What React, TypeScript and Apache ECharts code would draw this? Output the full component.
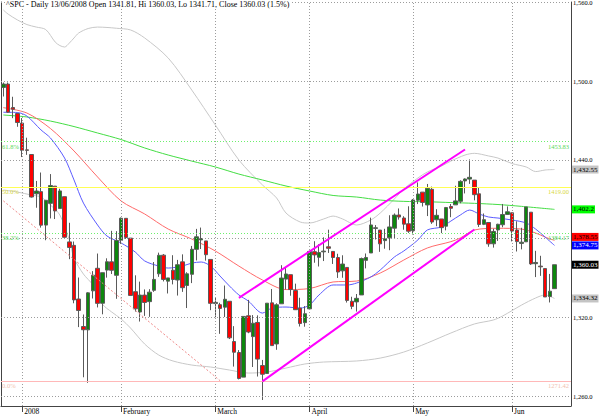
import React, { useEffect, useRef } from "react";
import * as echarts from "echarts";

const dates: string[] = [
  "2007-12-26", "2007-12-27", "2007-12-28", "2007-12-31",
  "2008-01-02", "2008-01-03", "2008-01-04", "2008-01-07", "2008-01-08", "2008-01-09", "2008-01-10", "2008-01-11",
  "2008-01-14", "2008-01-15", "2008-01-16", "2008-01-17", "2008-01-18", "2008-01-22", "2008-01-23", "2008-01-24",
  "2008-01-25", "2008-01-28", "2008-01-29", "2008-01-30", "2008-01-31",
  "2008-02-01", "2008-02-04", "2008-02-05", "2008-02-06", "2008-02-07", "2008-02-08", "2008-02-11", "2008-02-12",
  "2008-02-13", "2008-02-14", "2008-02-15", "2008-02-19", "2008-02-20", "2008-02-21", "2008-02-22", "2008-02-25",
  "2008-02-26", "2008-02-27", "2008-02-28", "2008-02-29",
  "2008-03-03", "2008-03-04", "2008-03-05", "2008-03-06", "2008-03-07", "2008-03-10", "2008-03-11", "2008-03-12",
  "2008-03-13", "2008-03-14", "2008-03-17", "2008-03-18", "2008-03-19", "2008-03-20", "2008-03-24", "2008-03-25",
  "2008-03-26", "2008-03-27", "2008-03-28", "2008-03-31",
  "2008-04-01", "2008-04-02", "2008-04-03", "2008-04-04", "2008-04-07", "2008-04-08", "2008-04-09", "2008-04-10",
  "2008-04-11", "2008-04-14", "2008-04-15", "2008-04-16", "2008-04-17", "2008-04-18", "2008-04-21", "2008-04-22",
  "2008-04-23", "2008-04-24", "2008-04-25", "2008-04-28", "2008-04-29", "2008-04-30",
  "2008-05-01", "2008-05-02", "2008-05-05", "2008-05-06", "2008-05-07", "2008-05-08", "2008-05-09", "2008-05-12",
  "2008-05-13", "2008-05-14", "2008-05-15", "2008-05-16", "2008-05-19", "2008-05-20", "2008-05-21", "2008-05-22",
  "2008-05-23", "2008-05-27", "2008-05-28", "2008-05-29", "2008-05-30",
  "2008-06-02", "2008-06-03", "2008-06-04", "2008-06-05", "2008-06-06", "2008-06-09", "2008-06-10", "2008-06-11",
  "2008-06-12", "2008-06-13",
];

// [open, high, low, close]
const ohlc: number[][] = [
  [1495.12, 1498.85, 1488.2, 1497.66], [1497.66, 1498.85, 1475.83, 1476.27], [1479.83, 1488.01, 1471.7, 1478.49],
  [1475.25, 1475.83, 1465.13, 1468.36], [1467.97, 1471.77, 1442.07, 1447.16], [1447.55, 1456.8, 1443.73, 1447.16],
  [1444.01, 1444.01, 1411.19, 1411.63], [1414.07, 1423.87, 1403.45, 1416.18], [1415.71, 1430.28, 1388.3, 1390.19],
  [1390.25, 1409.19, 1378.7, 1409.13], [1406.78, 1429.09, 1395.31, 1420.33], [1419.91, 1419.91, 1394.83, 1401.02],
  [1402.91, 1417.89, 1402.91, 1416.25], [1411.88, 1411.88, 1380.6, 1380.95], [1377.41, 1391.99, 1364.27, 1373.2],
  [1374.79, 1377.72, 1330.67, 1333.25], [1333.9, 1350.28, 1312.51, 1325.19], [1312.94, 1322.09, 1274.29, 1310.5],
  [1310.41, 1339.09, 1270.05, 1338.6], [1340.13, 1355.15, 1334.31, 1352.07], [1357.32, 1368.56, 1327.5, 1330.61],
  [1330.7, 1353.97, 1322.26, 1353.97], [1355.94, 1364.93, 1350.19, 1362.3], [1362.22, 1385.86, 1352.95, 1355.81],
  [1351.98, 1385.62, 1334.08, 1378.55], [1378.6, 1396.02, 1375.93, 1395.42], [1395.38, 1395.38, 1379.69, 1380.82],
  [1380.28, 1380.28, 1336.64, 1336.64], [1339.48, 1351.96, 1324.34, 1326.45], [1324.01, 1347.16, 1316.75, 1336.91],
  [1336.88, 1341.22, 1321.06, 1331.29], [1331.92, 1341.4, 1320.32, 1339.13], [1340.55, 1362.1, 1339.36, 1348.86],
  [1353.12, 1369.23, 1350.78, 1367.21], [1367.33, 1368.16, 1347.31, 1348.86], [1347.52, 1350.0, 1338.13, 1349.99],
  [1355.86, 1367.28, 1345.05, 1348.78], [1348.39, 1363.71, 1336.55, 1360.03], [1362.21, 1367.94, 1339.34, 1342.53],
  [1344.22, 1354.3, 1327.04, 1353.11], [1352.75, 1374.36, 1346.03, 1371.8], [1371.76, 1387.34, 1363.29, 1381.29],
  [1378.95, 1388.34, 1372.0, 1380.02], [1378.16, 1378.16, 1363.16, 1367.68], [1364.07, 1364.07, 1325.42, 1330.63],
  [1330.45, 1335.13, 1320.04, 1331.34], [1329.58, 1331.03, 1307.39, 1326.75], [1327.69, 1344.19, 1320.22, 1333.7],
  [1332.2, 1332.2, 1303.42, 1304.34], [1301.53, 1313.24, 1282.43, 1293.37], [1293.16, 1295.01, 1272.66, 1273.37],
  [1274.4, 1320.65, 1274.4, 1320.65], [1321.13, 1333.26, 1307.86, 1308.77], [1305.26, 1321.68, 1282.11, 1315.48],
  [1316.05, 1321.47, 1274.86, 1288.14], [1283.21, 1287.5, 1256.98, 1276.6], [1277.16, 1330.74, 1277.16, 1330.74],
  [1330.97, 1341.51, 1298.42, 1298.42], [1299.67, 1330.67, 1295.22, 1329.51], [1330.29, 1359.68, 1330.29, 1349.88],
  [1349.07, 1357.47, 1341.21, 1352.99], [1352.45, 1352.45, 1336.41, 1341.13], [1340.34, 1345.62, 1325.66, 1325.76],
  [1327.02, 1334.87, 1312.95, 1315.22], [1315.92, 1328.52, 1312.81, 1322.7], [1326.41, 1370.18, 1326.41, 1370.18],
  [1369.96, 1377.95, 1361.55, 1367.53], [1365.69, 1375.66, 1358.68, 1369.31], [1369.85, 1380.91, 1362.83, 1370.4],
  [1373.69, 1386.74, 1369.02, 1372.54], [1370.16, 1370.16, 1360.62, 1365.54], [1365.5, 1368.39, 1349.97, 1354.49],
  [1355.37, 1367.24, 1350.11, 1360.55], [1357.98, 1357.98, 1331.21, 1332.83], [1332.2, 1335.64, 1326.16, 1328.32],
  [1331.72, 1337.72, 1324.35, 1334.43], [1337.02, 1365.49, 1337.02, 1364.71], [1363.37, 1368.6, 1357.25, 1365.56],
  [1369.0, 1395.9, 1369.0, 1390.33], [1387.72, 1390.23, 1379.25, 1388.17], [1386.43, 1386.43, 1369.84, 1375.94],
  [1378.4, 1387.4, 1372.24, 1379.93], [1380.52, 1397.72, 1371.09, 1388.82], [1387.88, 1399.11, 1379.98, 1397.84],
  [1397.96, 1402.9, 1394.4, 1396.37], [1395.61, 1397.0, 1386.7, 1390.94], [1391.22, 1404.57, 1384.25, 1385.59],
  [1385.97, 1410.07, 1383.07, 1409.34], [1409.16, 1422.72, 1406.25, 1413.9], [1415.34, 1415.34, 1404.37, 1407.49],
  [1405.6, 1421.57, 1397.1, 1418.26], [1417.49, 1419.54, 1391.16, 1392.57], [1394.29, 1402.35, 1389.39, 1397.68],
  [1394.9, 1394.9, 1384.11, 1388.28], [1389.4, 1404.06, 1386.2, 1403.58], [1404.4, 1406.3, 1396.26, 1403.04],
  [1405.65, 1420.19, 1405.65, 1408.66], [1408.36, 1424.4, 1406.87, 1423.57], [1423.89, 1425.82, 1414.35, 1425.35],
  [1425.28, 1440.24, 1421.63, 1426.63], [1424.49, 1424.49, 1409.09, 1413.4], [1414.06, 1419.12, 1388.81, 1390.71],
  [1390.83, 1399.07, 1390.23, 1394.35], [1392.2, 1392.2, 1373.72, 1375.93], [1375.97, 1387.4, 1373.07, 1385.35],
  [1386.54, 1391.25, 1378.16, 1390.84], [1390.5, 1406.32, 1388.59, 1398.26], [1398.36, 1404.46, 1398.08, 1400.38],
  [1399.62, 1399.62, 1377.79, 1385.67], [1386.42, 1393.12, 1370.12, 1377.65], [1376.26, 1388.18, 1371.74, 1377.2],
  [1377.48, 1404.05, 1377.48, 1404.05], [1400.06, 1400.06, 1359.9, 1360.68], [1360.83, 1370.63, 1350.62, 1361.76],
  [1358.98, 1366.84, 1351.56, 1358.44], [1357.09, 1357.09, 1335.47, 1335.49], [1335.78, 1353.03, 1331.29, 1339.87],
  [1341.81, 1360.03, 1341.71, 1360.03],
];

const emptySlots = 3;

// indicator lines: [candle index, value]
const ma20Pts: number[][] = [
  [0, 1476.2], [3, 1476.0], [5, 1473.3], [8, 1462.7], [10, 1456.6], [13, 1441.3], [15, 1424.6], [17, 1407.0],
  [20, 1390.3], [22, 1381.9], [25, 1376.6], [28, 1369.7], [30, 1362.9], [33, 1359.0], [35, 1357.5], [38, 1359.0],
  [40, 1361.3], [42, 1362.1], [44, 1359.0], [46, 1351.4], [48, 1343.8], [50, 1337.0], [52, 1332.4], [55, 1323.2],
  [57, 1327.0], [60, 1327.8], [63, 1327.0], [65, 1329.3], [67, 1337.0], [70, 1344.6], [73, 1344.6], [75, 1346.1],
  [78, 1350.7], [80, 1356.0], [83, 1365.9], [85, 1370.5], [88, 1378.9], [90, 1386.5], [93, 1388.8], [95, 1393.3],
  [97, 1397.9], [99, 1401.7], [101, 1398.7], [103, 1396.4], [105, 1395.6], [108, 1394.1], [111, 1391.8],
  [113, 1387.2], [115, 1381.1], [117, 1374.75],
];
const ma50Pts: number[][] = [
  [0, 1479.7], [5, 1475.6], [10, 1463.8], [15, 1446.7], [20, 1426.9], [25, 1408.6], [30, 1398.7], [35, 1387.2],
  [40, 1379.6], [45, 1370.5], [50, 1359.0], [55, 1348.4], [60, 1341.1], [65, 1341.9], [70, 1346.9], [75, 1347.6],
  [80, 1353.7], [85, 1363.6], [90, 1372.8], [95, 1377.6], [97, 1380.4], [100, 1386.5], [105, 1387.8], [110, 1387.2],
  [113, 1384.2], [115, 1381.1], [117, 1378.55],
];
const ma200Pts: number[][] = [
  [0, 1474.1], [5, 1472.6], [10, 1469.5], [15, 1465.3], [20, 1460.4], [25, 1455.4], [30, 1449.0], [35, 1443.6],
  [40, 1439.0], [45, 1434.5], [50, 1429.1], [55, 1424.6], [60, 1420.0], [65, 1416.2], [70, 1412.8], [75, 1411.6],
  [80, 1409.3], [85, 1408.3], [90, 1408.0], [95, 1407.4], [100, 1406.8], [105, 1405.9], [110, 1404.5], [117, 1402.2],
];
const bandUpperPts: number[][] = [
  [0, 1554.1], [1, 1551.0], [3, 1546.5], [5, 1543.0], [7, 1541.1], [9, 1539.2], [11, 1529.7], [12, 1527.0],
  [13, 1525.9], [14, 1528.9], [15, 1532.8], [16, 1536.6], [18, 1540.0], [20, 1541.1], [22, 1540.8], [24, 1540.2],
  [27, 1538.9], [30, 1532.8], [35, 1517.5], [40, 1493.1], [45, 1466.5], [50, 1439.8], [55, 1420.8], [58, 1410.9],
  [60, 1399.4], [63, 1392.6], [65, 1391.8], [68, 1394.9], [70, 1397.1], [72, 1394.9], [75, 1390.3], [78, 1394.1],
  [80, 1399.4], [83, 1410.1], [85, 1417.7], [88, 1426.1], [90, 1430.7], [93, 1435.2], [95, 1439.0], [98, 1443.6],
  [100, 1444.9], [103, 1442.9], [105, 1441.3], [108, 1437.1], [111, 1434.5], [113, 1431.0], [115, 1432.2],
  [117, 1432.55],
];
const bandLowerPts: number[][] = [
  [0, 1417.0], [3, 1415.4], [6, 1413.1], [8, 1411.6], [10, 1405.5], [12, 1397.9], [14, 1378.9], [15, 1365.1],
  [17, 1352.9], [19, 1344.6], [21, 1330.1], [23, 1324.0], [25, 1318.7], [27, 1311.8], [30, 1299.6], [33, 1291.2],
  [36, 1286.7], [40, 1283.6], [44, 1282.1], [48, 1279.8], [52, 1277.5], [56, 1278.3], [60, 1281.3], [64, 1284.4],
  [68, 1285.9], [75, 1286.7], [80, 1288.9], [85, 1293.5], [90, 1300.4], [95, 1308.0], [100, 1314.9], [104, 1317.9],
  [106, 1321.0], [110, 1329.3], [113, 1334.7], [115, 1337.0], [117, 1334.32],
];

// trend lines: [[startIndex, startValue], [endIndex, endValue]]
const downTrend: number[][] = [[0, 1408.7], [46, 1271.7]];
const channelUpper: number[][] = [[50, 1334.8], [98, 1447.8]];
const channelLower: number[][] = [[55, 1271.2], [100, 1386.9]];

// Fibonacci retracement levels
const fibNames = ["61.8%", "50.0%", "38.2%", "0.0%"];
const fibValues = [1453.83, 1419.0, 1384.17, 1271.42];

// axis
const yTickValues = [1260, 1320, 1380, 1440, 1500, 1560];
const yLabelValues = [1260, 1320, 1440, 1500, 1560];
const yMin = 1252.4;
const yMax = 1560.2;
const monthStarts = [4, 25, 45, 65, 87, 108];
const monthNames = ["2008", "February", "March", "April", "May", "Jun"];

// last values shown at the right edge
const lastValues = [1432.55, 1402.2, 1378.55, 1374.75, 1360.03, 1334.32];
const lastTexts = ["1,432.55", "1,402.2", "1,378.55", "1,374.75", "1,360.03", "1,334.32"];

const title =
  "^SPC - Daily 13/06/2008 Open 1341.81, Hi 1360.03, Lo 1341.71, Close 1360.03 (1.5%)";

const FONT = '"Liberation Serif", "Times New Roman", serif';

const boxStyles = [
  { bg: "#c4c4c4", fg: "#000", dy: 0 },
  { bg: "#00ff00", fg: "#000", dy: 0 },
  { bg: "#ff0000", fg: "#000", dy: -3.5 },
  { bg: "#0000ff", fg: "#fff", dy: 0 },
  { bg: "#000000", fg: "#fff", dy: 0 },
  { bg: "#c4c4c4", fg: "#000", dy: 0 },
];
const fibStyles = [
  { line: "#6cf06c", text: "#5ad85a", dash: [1, 2] },
  { line: "#ffff55", text: "#d8d840", dash: "solid" },
  { line: "#6cf06c", text: "#5ad85a", dash: [1, 2] },
  { line: "#ffb8b8", text: "#f0c0b0", dash: "solid" },
];

export default function App() {
  const ref = useRef<HTMLDivElement>(null);

  useEffect(() => {
    const el = ref.current;
    if (!el) return;
    const chart = echarts.init(el, null, { renderer: "svg" });

    const n = dates.length + emptySlots;
    const categories = [...dates];
    for (let k = 0; k < emptySlots; k++) categories.push("pad" + k);
    const nulls = new Array(n).fill(null);
    const sparse = (pts: number[][]) => {
      const a: (number | null)[] = new Array(n).fill(null);
      pts.forEach(([i, v]) => (a[i] = v));
      return a;
    };
    const candleData = ohlc.map(([o, h, l, c]) => [o, c, l, h]);
    const monthMap: Record<number, string> = {};
    monthStarts.forEach((i, k) => (monthMap[i] = monthNames[k]));
    const isMonth = (i: number) => monthMap[i] !== undefined;
    const fmtY = (v: number) => {
      const th = Math.floor(v / 1000);
      const rest = String(Math.round(v % 1000)).padStart(3, "0");
      return `${th},${rest}.0`;
    };

    const gridLine = { color: "#9c9c9c", width: 1, type: [1, 2] as any };

    const fibMarks: any[] = fibValues.map((v, k) => {
      const st = fibStyles[k];
      return {
        yAxis: v,
        lineStyle: { color: st.line, width: 1, type: st.dash as any },
        label: {
          show: true,
          position: "insideStartBottom",
          formatter: fibNames[k],
          color: st.text,
          fontSize: 6.5,
          fontFamily: FONT,
          distance: [1, 1],
        },
      };
    });

    const lineSeries = (name: string, pts: number[][], color: string) => ({
      name,
      type: "line",
      data: sparse(pts),
      connectNulls: true,
      showSymbol: false,
      symbol: "none",
      smooth: 0.3,
      silent: true,
      z: 2,
      lineStyle: { color, width: 1 },
    });

    const option: any = {
      animation: false,
      backgroundColor: "#ffffff",
      grid: { left: 1, right: 29, top: 2, bottom: 10, containLabel: false, outerBoundsMode: "none" },
      xAxis: {
        type: "category",
        data: categories,
        boundaryGap: true,
        axisLine: { show: true, onZero: false, lineStyle: { color: "#444", width: 1 } },
        axisTick: {
          show: true,
          alignWithLabel: true,
          interval: (i: number) => isMonth(i),
          length: 6,
          lineStyle: { color: "#444" },
        },
        axisLabel: {
          show: true,
          interval: (i: number) => isMonth(i),
          formatter: (_v: string, i: number) => monthMap[i] ?? "",
          align: "left",
          color: "#000",
          fontSize: 7.5,
          fontFamily: FONT,
          margin: 1,
          padding: [0, 0, 0, 2],
        },
        splitLine: { show: false },
      },
      yAxis: [
        {
          type: "value",
          position: "right",
          min: yMin,
          max: yMax,
          axisLine: { show: true, lineStyle: { color: "#444", width: 1 } },
          axisTick: { show: false },
          splitLine: { show: false },
          axisLabel: {
            customValues: yLabelValues,
            formatter: (v: number) => fmtY(v),
            color: "#000",
            fontSize: 6.5,
            fontFamily: FONT,
            margin: 2,
            hideOverlap: false,
          },
        },
        {
          type: "value",
          position: "left",
          min: yMin,
          max: yMax,
          axisLine: { show: true, lineStyle: { color: "#444", width: 1 } },
          axisTick: { show: false },
          axisLabel: { show: false },
          splitLine: { show: false },
        },
      ],
      series: [
        {
          name: "grid",
          type: "line",
          data: nulls,
          silent: true,
          z: 1,
          markLine: {
            silent: true,
            symbol: ["none", "none"],
            label: { show: false },
            lineStyle: gridLine,
            data: [
              ...yTickValues.map((v) => ({ yAxis: v })),
              ...monthStarts.map((i) => ({ xAxis: i })),
            ],
          },
        },
        {
          name: "fib",
          type: "line",
          data: nulls,
          silent: true,
          z: 1,
          markLine: { silent: true, symbol: ["none", "none"], data: fibMarks },
        },
        lineSeries("bandUpper", bandUpperPts, "#c8c8c8"),
        lineSeries("bandLower", bandLowerPts, "#c8c8c8"),
        lineSeries("ma200", ma200Pts, "#44dd44"),
        lineSeries("ma50", ma50Pts, "#ff6a6a"),
        lineSeries("ma20", ma20Pts, "#5b5bff"),
        {
          name: "downtrend",
          type: "line",
          data: nulls,
          silent: true,
          z: 2,
          markLine: {
            silent: true,
            symbol: ["none", "none"],
            label: { show: false },
            lineStyle: { color: "#f08a8a", width: 1, type: [2, 2] as any },
            data: [[{ coord: downTrend[0] }, { coord: downTrend[1] }]],
          },
        },
        {
          name: "SPC",
          type: "candlestick",
          data: candleData,
          barWidth: 4,
          z: 3,
          itemStyle: {
            color: "#0e870e",
            color0: "#ff0000",
            borderColor: "#5a5a5a",
            borderColor0: "#5a5a5a",
            borderWidth: 1,
          },
        },
        {
          name: "channel",
          type: "line",
          data: nulls,
          silent: true,
          z: 5,
          markLine: {
            silent: true,
            symbol: ["none", "none"],
            label: { show: false },
            lineStyle: { color: "#ff00ff", width: 2, type: "solid" },
            data: [
              [{ coord: channelUpper[0] }, { coord: channelUpper[1] }],
              [{ coord: channelLower[0] }, { coord: channelLower[1] }],
            ],
          },
        },
      ],
    };

    chart.setOption(option);

    const axisX = chart.getWidth() - 29;
    const yPix = (v: number) => chart.convertToPixel({ yAxisIndex: 0 }, v) as number;
    const boxes = lastValues.map((v, k) => ({
      type: "text",
      x: axisX + 1,
      y: yPix(v) + boxStyles[k].dy,
      z: 20,
      style: {
        text: lastTexts[k],
        fill: boxStyles[k].fg,
        backgroundColor: boxStyles[k].bg,
        padding: [1, 1, 0, 1],
        font: `7px ${FONT}`,
        verticalAlign: "middle",
        align: "left",
      },
    }));
    const fibRight = fibValues.map((v, k) => ({
      type: "text",
      x: axisX - 2,
      y: yPix(v) + 1,
      z: 15,
      style: {
        text: v.toFixed(2),
        fill: fibStyles[k].text,
        font: `6.5px ${FONT}`,
        verticalAlign: "top",
        align: "right",
      },
    }));
    chart.setOption({
      graphic: [
        {
          type: "text",
          x: 5,
          y: 0,
          z: 20,
          style: {
            text: title,
            fill: "#000",
            backgroundColor: "#ffffff",
            padding: [0, 1, 0, 1],
            font: `8px ${FONT}`,
            verticalAlign: "top",
          },
        },
        ...fibRight,
        ...boxes,
      ],
    });

    return () => chart.dispose();
  }, []);

  return (
    <div
      ref={ref}
      style={{ position: "fixed", left: 0, top: 0, width: 600, height: 416, background: "#fff" }}
    />
  );
}
